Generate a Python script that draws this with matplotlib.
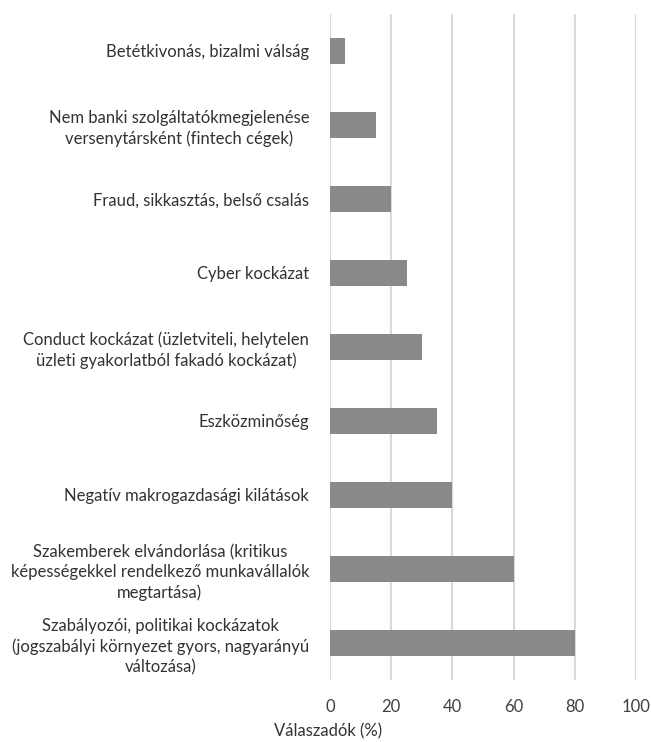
import matplotlib
matplotlib.use("Agg")
import matplotlib.pyplot as plt

plt.rcParams['font.family'] = ['Lato', 'DejaVu Sans']

# Kategóriák (felülről lefelé)
categories = [
    "Betétkivonás, bizalmi válság",
    "Nem banki szolgáltatókmegjelenése\nversenytársként (fintech cégek)",
    "Fraud, sikkasztás, belső csalás",
    "Cyber kockázat",
    "Conduct kockázat (üzletviteli, helytelen\nüzleti gyakorlatból fakadó kockázat)",
    "Eszközminőség",
    "Negatív makrogazdasági kilátások",
    "Szakemberek elvándorlása (kritikus\nképességekkel rendelkező munkavállalók\nmegtartása)",
    "Szabályozói, politikai kockázatok\n(jogszabályi környezet gyors, nagyarányú\nváltozása)",
]
values = [5, 15, 20, 25, 30, 35, 40, 60, 80]
xticks = [0, 20, 40, 60, 80, 100]

fig = plt.figure(figsize=(6.51, 7.42), dpi=100)
ax = fig.add_axes([330 / 651, 1 - 680 / 742, 306 / 651, 666 / 742])

ypos = list(range(len(categories)))
ax.barh(ypos, values, height=0.34, color='#898989', zorder=3)
ax.set_ylim(len(categories) - 0.5, -0.5)
ax.set_xlim(0, 100)
ax.set_xticks(xticks)
ax.set_yticks(ypos)
ax.set_yticklabels(categories, multialignment='center', fontsize=12,
                   color='#333333', linespacing=1.32)
ax.tick_params(axis='y', length=0, pad=15)
ax.tick_params(axis='x', length=0, pad=14, labelsize=12, labelcolor='#404040')
ax.grid(axis='x', color='#d9d9d9', linewidth=1.5, zorder=0)
for s in ax.spines.values():
    s.set_visible(False)

fig.text(328 / 651, 1 - 731 / 742, "Válaszadók (%)", ha='center', va='center',
         fontsize=12, color='#333333')

fig.savefig("out.png", dpi=100)
